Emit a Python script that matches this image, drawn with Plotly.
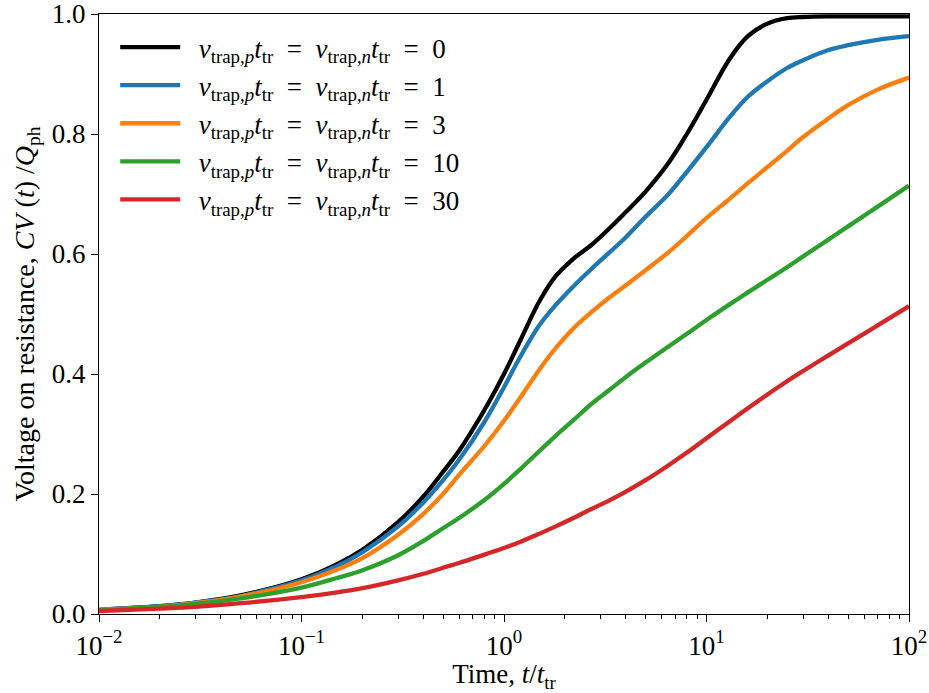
import plotly.graph_objects as go

# Normalised time t / t_tr
t = [0.01, 0.02, 0.03, 0.05, 0.1, 0.15, 0.2, 0.3, 0.4, 0.5, 0.6, 0.8, 1.0,
     1.2, 1.5, 1.8, 2.2, 2.7, 3.3, 4.0, 5.0, 6.5, 8.0, 10, 13, 16, 20, 25,
     30, 40, 50, 70, 100]

# CV(t)/Q_ph for each trapping rate
v_0 = [0.007, 0.013, 0.019, 0.031, 0.058, 0.083, 0.107, 0.153, 0.196, 0.237,
       0.272, 0.340, 0.400, 0.455, 0.522, 0.563, 0.592, 0.615, 0.642, 0.670,
       0.704, 0.752, 0.800, 0.857, 0.925, 0.963, 0.984, 0.993, 0.995, 0.996,
       0.996, 0.996, 0.996]
v_1 = [0.007, 0.013, 0.019, 0.030, 0.056, 0.080, 0.103, 0.146, 0.186, 0.223,
       0.257, 0.320, 0.378, 0.428, 0.482, 0.515, 0.546, 0.575, 0.602, 0.628,
       0.662, 0.700, 0.737, 0.778, 0.828, 0.862, 0.888, 0.910, 0.923, 0.940,
       0.948, 0.957, 0.963]
v_3 = [0.007, 0.012, 0.018, 0.029, 0.053, 0.074, 0.093, 0.132, 0.167, 0.200,
       0.232, 0.280, 0.322, 0.360, 0.408, 0.443, 0.476, 0.503, 0.527, 0.548,
       0.573, 0.603, 0.630, 0.660, 0.692, 0.718, 0.745, 0.772, 0.795, 0.826,
       0.848, 0.874, 0.894]
v_10 = [0.006, 0.012, 0.017, 0.026, 0.044, 0.060, 0.073, 0.098, 0.122, 0.143,
        0.160, 0.190, 0.217, 0.241, 0.272, 0.297, 0.323, 0.350, 0.373, 0.395,
        0.419, 0.446, 0.467, 0.490, 0.516, 0.536, 0.557, 0.578, 0.596, 0.624,
        0.646, 0.679, 0.714]
v_30 = [0.005, 0.009, 0.012, 0.018, 0.028, 0.036, 0.043, 0.056, 0.067, 0.077,
        0.085, 0.099, 0.110, 0.120, 0.134, 0.146, 0.160, 0.175, 0.189, 0.204,
        0.223, 0.248, 0.269, 0.293, 0.321, 0.343, 0.366, 0.388, 0.405, 0.431,
        0.451, 0.481, 0.513]

rates = ["0", "1", "3", "10", "30"]
series = [v_0, v_1, v_3, v_10, v_30]
colors = ["#000000", "#1f77b4", "#ff7f0e", "#2ca02c", "#d62728"]

x_major = [0.01, 0.1, 1, 10, 100]
x_major_text = ["10<sup>−2</sup>", "10<sup>−1</sup>", "10<sup>0</sup>",
                "10<sup>1</sup>", "10<sup>2</sup>"]
x_minor = [m * d for d in (0.01, 0.1, 1, 10) for m in range(2, 10)]
y_ticks = [0.0, 0.2, 0.4, 0.6, 0.8, 1.0]

FONT = "Liberation Serif"
SP = "\u2002"  # wider gap around the equals signs


def legend_label(r):
    return (SP + "<i>ν</i><sub>trap,<i>p</i></sub><i>t</i><sub>tr</sub>" + SP + "=" + SP +
            "<i>ν</i><sub>trap,<i>n</i></sub><i>t</i><sub>tr</sub>" + SP + "=" + SP + r)


fig = go.Figure()
for r, v, c in zip(rates, series, colors):
    fig.add_trace(go.Scatter(
        x=t, y=v, mode="lines", name=legend_label(r),
        line=dict(color=c, width=4.3, shape="spline", smoothing=1.0),
    ))

axis_common = dict(
    showline=True, linecolor="black", linewidth=1.3, mirror=True,
    ticks="outside", ticklen=7, tickwidth=1.3, tickcolor="black",
    showgrid=False, zeroline=False, automargin=False,
    ticklabeloverflow="allow",
    tickfont=dict(family=FONT, size=27, color="black"),
)

fig.update_xaxes(
    type="log", range=[-2, 2],
    tickmode="array", tickvals=x_major, ticktext=x_major_text,
    minor=dict(tickmode="array", tickvals=x_minor, ticks="outside",
               ticklen=4, tickwidth=1, tickcolor="black", showgrid=False),
    title=dict(text="Time, <i>t</i>/<i>t</i><sub>tr</sub>",
               font=dict(family=FONT, size=27, color="black"), standoff=7),
    **axis_common,
)
fig.update_yaxes(
    range=[0, 1], tickmode="array", tickvals=y_ticks,
    ticktext=[f"{v:.1f}" for v in y_ticks],
    title=dict(text="Voltage on resistance, <i>CV</i> (<i>t</i>) /<i>Q</i><sub>ph</sub>",
               font=dict(family=FONT, size=28, color="black"), standoff=8),
    **axis_common,
)

fig.update_layout(
    width=929, height=693,
    margin=dict(l=99, r=20, t=14, b=79),
    plot_bgcolor="white", paper_bgcolor="white",
    font=dict(family=FONT, size=27, color="black"),
    showlegend=True,
    legend=dict(x=0.02, y=0.985, xanchor="left", yanchor="top",
                bgcolor="rgba(0,0,0,0)", borderwidth=0,
                itemwidth=60, tracegroupgap=0,
                font=dict(family=FONT, size=27, color="black")),
)

fig.write_html("out.html")
